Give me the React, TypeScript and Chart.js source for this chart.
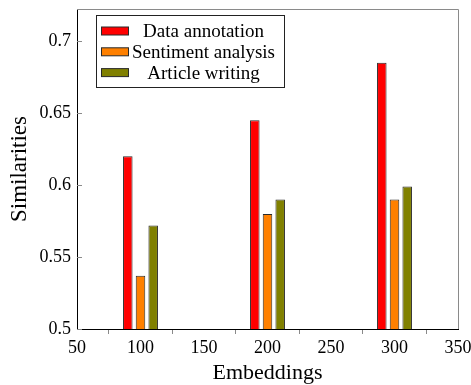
import React, { useEffect, useRef } from "react";
import { Chart, registerables } from "chart.js";

Chart.register(...registerables);

// Embedding sizes on the x axis and the similarity reached by each task
const embeddings = [100, 200, 300];
const dataAnnotation = [0.62, 0.645, 0.685];
const sentimentAnalysis = [0.537, 0.58, 0.59];
const articleWriting = [0.572, 0.59, 0.599];

const seriesNames = ["Data annotation", "Sentiment analysis", "Article writing"];
const seriesColors = ["#ff0000", "#ff8000", "#808000"];

const xTicks = [50, 100, 150, 200, 250, 300, 350];
const yTicks = [0.5, 0.55, 0.6, 0.65, 0.7];
const xRange = [50, 350];
const yRange = [0.5, 0.7224];

const SERIF = "'Liberation Serif', 'Times New Roman', serif";
const EDGE = "#2a2a2a";
const FRAME_GRAY = "#8a8a8a";

// Gray top/right frame, inward y tick marks, and a boxed legend inside the plot
const framePlugin = {
  id: "frameAndLegend",
  afterDraw(chart: Chart) {
    const { ctx, chartArea } = chart;
    const { left, right, top, bottom } = chartArea;
    const yScale = chart.scales.y;
    ctx.save();

    ctx.strokeStyle = FRAME_GRAY;
    ctx.lineWidth = 1;
    ctx.beginPath();
    ctx.moveTo(left, top + 0.5);
    ctx.lineTo(right + 0.5, top + 0.5);
    ctx.lineTo(right + 0.5, bottom);
    ctx.stroke();

    ctx.beginPath();
    for (const v of yTicks) {
      const py = Math.round(yScale.getPixelForValue(v)) + 0.5;
      ctx.moveTo(left, py);
      ctx.lineTo(left + 5, py);
    }
    ctx.stroke();

    // legend
    const bx = left + 19.5;
    const by = top + 6.5;
    const bw = 188;
    const bh = 72;
    ctx.fillStyle = "#ffffff";
    ctx.fillRect(bx, by, bw, bh);
    ctx.strokeStyle = "#222";
    ctx.strokeRect(bx, by, bw, bh);

    ctx.font = `19px ${SERIF}`;
    ctx.textAlign = "center";
    ctx.textBaseline = "middle";
    const rowH = 20.8;
    seriesNames.forEach((name, i) => {
      const cy = by + 15.5 + i * rowH;
      ctx.fillStyle = seriesColors[i];
      ctx.fillRect(bx + 5, cy - 4, 27, 8);
      ctx.strokeStyle = EDGE;
      ctx.strokeRect(bx + 5, cy - 4, 27, 8);
      ctx.fillStyle = "#000";
      ctx.fillText(name, bx + 107, cy + 1);
    });

    ctx.restore();
  },
};

export default function App() {
  const canvasRef = useRef<HTMLCanvasElement | null>(null);

  useEffect(() => {
    document.body.style.margin = "0";
    const canvas = canvasRef.current;
    if (!canvas) return;

    const series = [dataAnnotation, sentimentAnalysis, articleWriting];

    const chart = new Chart(canvas, {
      type: "bar",
      data: {
        datasets: series.map((vals, i) => ({
          label: seriesNames[i],
          data: embeddings.map((x, j) => ({ x, y: vals[j] })),
          backgroundColor: seriesColors[i],
          borderColor: EDGE,
          borderWidth: 1,
          categoryPercentage: 0.6,
          barPercentage: 0.75,
        })),
      },
      options: {
        animation: false,
        responsive: false,
        layout: { padding: { top: 9, right: 13, left: 0, bottom: 0 } },
        plugins: {
          legend: { display: false },
          tooltip: { enabled: false },
        },
        scales: {
          x: {
            type: "linear",
            min: xRange[0],
            max: xRange[1],
            offset: false,
            afterBuildTicks: (scale: any) => {
              scale.ticks = xTicks.map((value) => ({ value }));
            },
            afterFit: (scale: any) => {
              scale.height = 56;
              scale.paddingLeft = 0;
              scale.paddingRight = 0;
            },
            grid: {
              display: true,
              drawOnChartArea: false,
              drawTicks: true,
              tickLength: 5,
              color: FRAME_GRAY,
            },
            border: { display: true, color: "#000", width: 1 },
            ticks: {
              color: "#000",
              font: { family: SERIF, size: 18 },
              padding: 3,
              maxRotation: 0,
              callback: (v: any) => String(v),
            },
            title: {
              display: true,
              text: "Embeddings",
              color: "#000",
              font: { family: SERIF, size: 22, lineHeight: 1 },
              padding: { top: 0, bottom: 1 },
            },
          },
          y: {
            type: "linear",
            min: yRange[0],
            max: yRange[1],
            afterBuildTicks: (scale: any) => {
              scale.ticks = yTicks.map((value) => ({ value }));
            },
            afterFit: (scale: any) => {
              scale.width = 77;
              scale.paddingTop = 0;
              scale.paddingBottom = 0;
            },
            grid: { display: false, drawTicks: false },
            border: { display: true, color: "#000", width: 1 },
            ticks: {
              color: "#000",
              font: { family: SERIF, size: 18 },
              padding: 6,
              callback: (v: any) => String(v),
            },
            title: {
              display: true,
              text: "Similarities",
              color: "#000",
              font: { family: SERIF, size: 23, lineHeight: 1 },
              padding: { top: 8, bottom: 0 },
            },
          },
        },
      },
      plugins: [framePlugin],
    });

    return () => chart.destroy();
  }, []);

  return (
    <div style={{ width: 471, height: 385, background: "#fff" }}>
      <canvas ref={canvasRef} width={471} height={385} />
    </div>
  );
}
